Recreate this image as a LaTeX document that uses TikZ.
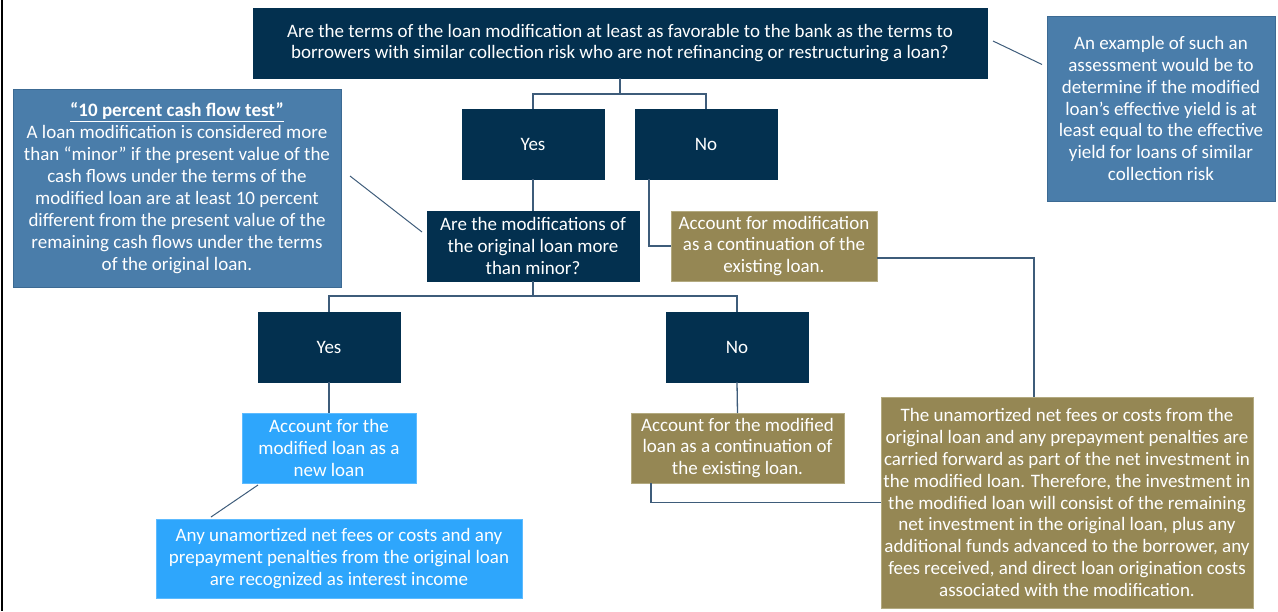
\documentclass[tikz,border=0pt]{standalone}
\usepackage{fontspec}
\setmainfont{Carlito}
\usetikzlibrary{calc}
\definecolor{navy}{HTML}{03304F}
\definecolor{noteblue}{HTML}{4A7DAA}
\definecolor{noteedge}{HTML}{3C6A93}
\definecolor{lightblue}{HTML}{2EA6FC}
\definecolor{lightedge}{HTML}{5DBBFF}
\definecolor{olive}{HTML}{958754}
\definecolor{oliveedge}{HTML}{B3AA80}
\definecolor{linec}{HTML}{3E5C7A}
\begin{document}
\begin{tikzpicture}[x=1pt,y=-1pt,
  every node/.style={inner sep=0pt,outer sep=0pt,align=center,text=white,
    font=\fontsize{19}{21.9}\selectfont},
  navybox/.style={fill=navy,draw=navy,line width=0.8pt},
  notebox/.style={fill=noteblue,draw=noteedge,line width=0.8pt},
  lbbox/.style={fill=lightblue,draw=lightedge,line width=0.8pt},
  olbox/.style={fill=olive,draw=oliveedge,line width=0.8pt},
  conn/.style={draw=linec,line width=1.3pt},
  thin/.style={draw=linec,line width=1pt}]
\useasboundingbox (0,0) rectangle (1278,611);
\draw[line width=2.5pt,black] (2,0) -- (2,611);
% nodes
\node[navybox,minimum width=734pt,minimum height=70pt] (top) at (620,43)
 {Are the terms of the loan modification at least as favorable to the bank as the terms to\\
  borrowers with similar collection risk who are not refinancing or restructuring a loan?};
\node[notebox,minimum width=228pt,minimum height=185pt] (note2) at (1161,108.5)
 {An example of such an\\assessment would be to\\determine if the modified\\loan’s effective yield is at\\least equal to the effective\\yield for loans of similar\\collection risk};
\node[notebox,minimum width=328pt,minimum height=198pt] (note1) at (177,188)
 {\underline{\textbf{“10 percent cash flow test”}}\\
  A loan modification is considered more\\than “minor” if the present value of the\\cash flows under the terms of the\\modified loan are at least 10 percent\\different from the present value of the\\remaining cash flows under the terms\\of the original loan.};
\node[navybox,minimum width=142pt,minimum height=70pt] (yes1) at (533,144) {Yes};
\node[navybox,minimum width=142pt,minimum height=70pt] (no1) at (706,144) {No};
\node[navybox,minimum width=212pt,minimum height=70pt] (q2) at (533,246)
 {Are the modifications of\\the original loan more\\than minor?};
\node[olbox,minimum width=206pt,minimum height=70pt] (ol1) at (774,246)
 {Account for modification\\as a continuation of the\\existing loan.};
\node[navybox,minimum width=142pt,minimum height=70pt] (yes2) at (329,347) {Yes};
\node[navybox,minimum width=142pt,minimum height=70pt] (no2) at (737,347) {No};
\node[lbbox,minimum width=174pt,minimum height=70pt] (lb1) at (329,448)
 {Account for the\\modified loan as a\\new loan};
\node[olbox,minimum width=213pt,minimum height=70pt] (ol2) at (737.5,448)
 {Account for the modified\\loan as a continuation of\\the existing loan.};
\node[lbbox,minimum width=366pt,minimum height=79pt] (lb2) at (339,558.5)
 {Any unamortized net fees or costs and any\\prepayment penalties from the original loan\\are recognized as interest income};
\node[olbox,minimum width=372pt,minimum height=211pt] (big) at (1067,502.5)
 {The unamortized net fees or costs from the\\original loan and any prepayment penalties are\\carried forward as part of the net investment in\\the modified loan. Therefore, the investment in\\the modified loan will consist of the remaining\\net investment in the original loan, plus any\\additional funds advanced to the borrower, any\\fees received, and direct loan origination costs\\associated with the modification.};
% connectors
\coordinate (j1) at ($(top.south)+(0,16)$);
\draw[conn] (top.south) -- (j1) -| (yes1.north);
\draw[conn] (j1) -| (no1.north);
\draw[conn] (yes1.south) -- (q2.north);
\coordinate (j2) at ($(q2.south)+(0,15)$);
\draw[conn] (q2.south) -- (j2) -| (yes2.north);
\draw[conn] (j2) -| (no2.north);
\draw[conn] ([xshift=-57pt]no1.south) |- (ol1.west);
\draw[conn] (yes2.south) -- (lb1.north);
\draw[conn] (no2.south) -- (ol2.north);
\draw[thin] ([xshift=16pt,yshift=-2pt]lb1.south west) -- ([xshift=55pt,yshift=2pt]lb2.north west);
\draw[conn] ([yshift=-12pt]ol1.east) -| ([xshift=-33pt]big.north);
\draw[conn] ([xshift=-86.5pt]ol2.south) |- (big.west);
\draw[thin] ([xshift=9pt,yshift=12pt]note1.east) -- ([xshift=-5pt,yshift=14pt]q2.west);
\draw[thin] ([xshift=6pt,yshift=2pt]top.east) -- ([xshift=-5pt,yshift=44pt]note2.west);
\end{tikzpicture}
\end{document}
